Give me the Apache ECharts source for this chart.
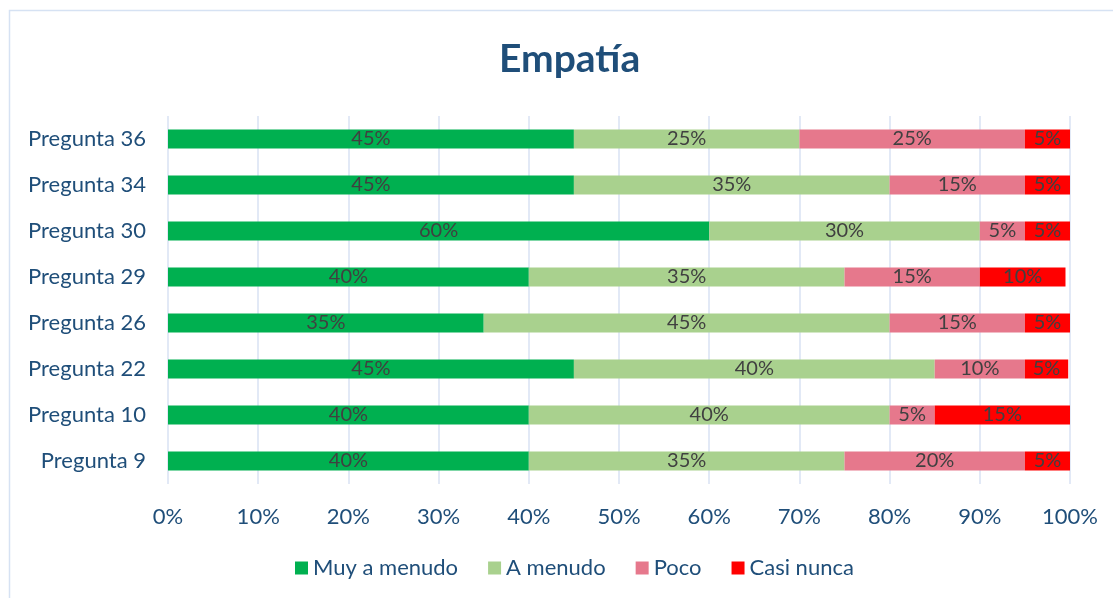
<!DOCTYPE html>
<html>
<head>
<meta charset="utf-8">
<script src="https://cdn.jsdelivr.net/npm/echarts@6/dist/echarts.min.js"></script>
<style>
  html, body { margin: 0; padding: 0; background: #fff; }
  #main { width: 1113px; height: 598px; }
</style>
</head>
<body>
<div id="main"></div>
<script>
// bottom to top, as the category axis draws them
var preguntas = ['Pregunta 9', 'Pregunta 10', 'Pregunta 22', 'Pregunta 26', 'Pregunta 29', 'Pregunta 30', 'Pregunta 34', 'Pregunta 36'];
var muyAMenudo = [40, 40, 45, 35, 40, 60, 45, 45];
var aMenudo = [35, 40, 40, 45, 35, 30, 35, 25];
var poco = [20, 5, 10, 15, 15, 5, 15, 25];
var casiNunca = [5, 15, 4.8, 5, 9.5, 5, 5, 5];

var chartDom = document.getElementById('main');
var myChart = echarts.init(chartDom);
var font = 'Lato, "Open Sans", sans-serif';
var blue = '#1F4E79';

function serie(name, data, color) {
  return {
    name: name,
    type: 'bar',
    stack: 'total',
    data: data,
    barWidth: 19,
    itemStyle: { color: color },
    label: {
      show: true,
      position: 'inside',
      color: '#404040',
      fontFamily: font,
      fontSize: 20,
      formatter: function (p) { return Math.round(p.value) + '%'; }
    }
  };
}

var option = {
  animation: false,
  textStyle: { fontFamily: font },
  graphic: [{
    type: 'rect',
    shape: { x: 9.5, y: 10.5, width: 1120, height: 600 },
    style: { fill: 'none', stroke: '#D6E2F3', lineWidth: 1.5 }
  }],
  title: {
    text: 'Empatía',
    left: 494,
    top: 35,
    textStyle: { color: blue, fontSize: 39, fontWeight: 'bold', fontFamily: font }
  },
  legend: {
    bottom: 14,
    left: 290,
    itemWidth: 13,
    itemHeight: 13,
    itemGap: 30,
    icon: 'rect',
    textStyle: { color: blue, fontSize: 22, fontFamily: font }
  },
  grid: { left: 168, right: 43, top: 116, bottom: 114 },
  xAxis: {
    type: 'value',
    min: 0,
    max: 100,
    interval: 10,
    axisLine: { show: false },
    axisTick: { show: false },
    axisLabel: { color: blue, fontSize: 22, margin: 22, fontFamily: font, formatter: '{value}%' },
    splitLine: { lineStyle: { color: '#D9E2F3', width: 1.5 } }
  },
  yAxis: {
    type: 'category',
    data: preguntas,
    axisLine: { show: false },
    axisTick: { show: false },
    axisLabel: { color: blue, fontSize: 22, margin: 22, fontFamily: font }
  },
  series: [
    serie('Muy a menudo', muyAMenudo, '#00B050'),
    serie('A menudo', aMenudo, '#A9D18E'),
    serie('Poco', poco, '#E6788C'),
    serie('Casi nunca', casiNunca, '#FF0000')
  ]
};
myChart.setOption(option);
</script>
</body>
</html>
